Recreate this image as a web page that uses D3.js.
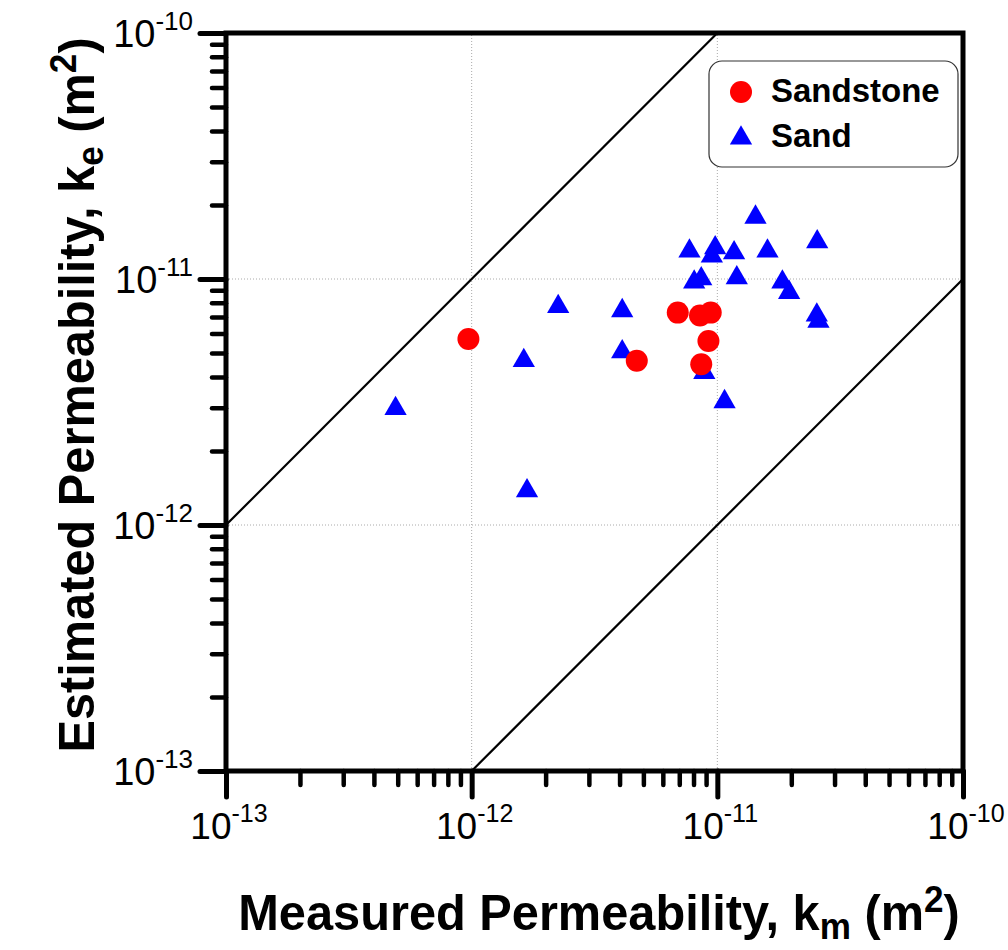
<!DOCTYPE html>
<html>
<head>
<meta charset="utf-8">
<script src="https://cdn.jsdelivr.net/npm/d3@7"></script>
<style>
  body { margin: 0; background: #fff; }
  svg text { font-family: Arial, "Liberation Sans", sans-serif; }
</style>
</head>
<body>
<svg id="chart" width="1008" height="950"></svg>
<script>
// measured (x) / estimated (y) permeability, m^2
const sandstoneMeasured  = [0.97e-12, 4.7e-12, 6.9e-12, 8.5e-12, 9.4e-12, 9.2e-12, 8.6e-12];
const sandstoneEstimated = [5.7e-12, 4.65e-12, 7.3e-12, 7.1e-12, 7.3e-12, 5.6e-12, 4.5e-12];

const sandMeasured  = [4.9e-13, 1.63e-12, 1.68e-12, 2.25e-12, 4.1e-12, 4.1e-12, 7.7e-12, 9.8e-12,
                       9.5e-12, 1.17e-11, 1.43e-11, 1.6e-11, 2.55e-11, 8.05e-12, 8.6e-12, 1.2e-11,
                       1.84e-11, 1.96e-11, 2.54e-11, 2.58e-11, 8.85e-12, 1.07e-11];
const sandEstimated = [3.0e-12, 4.7e-12, 1.39e-12, 7.8e-12, 7.5e-12, 5.1e-12, 1.31e-11, 1.35e-11,
                       1.25e-11, 1.29e-11, 1.8e-11, 1.31e-11, 1.43e-11, 9.8e-12, 1.01e-11, 1.02e-11,
                       9.8e-12, 8.9e-12, 7.2e-12, 6.8e-12, 4.2e-12, 3.2e-12];

const domainK = [1e-13, 1e-10];
const majorExponents = [-13, -12, -11, -10];
const gridExponents = [-12, -11];
const ratioLines = [10, 0.1];   // k_e = r * k_m

const svg = d3.select("#chart");
const x = d3.scaleLog().domain(domainK).range([226, 963]);
const y = d3.scaleLog().domain(domainK).range([771, 33]);

// grid
const grid = svg.append("g").attr("stroke", "#aaa").attr("stroke-width", 1).attr("stroke-dasharray", "1,2");
grid.selectAll(".gx").data(gridExponents).enter().append("line")
  .attr("x1", d => x(Math.pow(10, d))).attr("x2", d => x(Math.pow(10, d)))
  .attr("y1", y(domainK[0])).attr("y2", y(domainK[1]));
grid.selectAll(".gy").data(gridExponents).enter().append("line")
  .attr("y1", d => y(Math.pow(10, d))).attr("y2", d => y(Math.pow(10, d)))
  .attr("x1", x(domainK[0])).attr("x2", x(domainK[1]));

// 1:10 and 10:1 lines
const line = d3.line().x(d => x(d[0])).y(d => y(d[1]));
ratioLines.forEach(r => {
  const x0 = Math.max(domainK[0], domainK[0] / r);
  const x1 = Math.min(domainK[1], domainK[1] / r);
  svg.append("path")
    .attr("d", line([[x0, x0 * r], [x1, x1 * r]]))
    .attr("stroke", "#000").attr("stroke-width", 2.2).attr("fill", "none");
});

// ticks
const allTicks = x.ticks();
const isMajor = v => Math.abs(Math.log10(v) - Math.round(Math.log10(v))) < 1e-6;
const minorTicks = allTicks.filter(v => !isMajor(v));
const majorTicks = allTicks.filter(isMajor);

function styleAxis(g, w) {
  g.select(".domain").remove();
  g.selectAll("line").attr("stroke", "#000").attr("stroke-linecap", "round").attr("stroke-width", w);
}
svg.append("g").attr("transform", "translate(0,771)")
  .call(d3.axisBottom(x).tickValues(minorTicks).tickSize(14).tickFormat(""))
  .call(styleAxis, 4.5);
svg.append("g").attr("transform", "translate(0,771)")
  .call(d3.axisBottom(x).tickValues(majorTicks).tickSize(26).tickFormat(""))
  .call(styleAxis, 5);
svg.append("g").attr("transform", "translate(226,0)")
  .call(d3.axisLeft(y).tickValues(minorTicks).tickSize(14).tickFormat(""))
  .call(styleAxis, 4.5);
svg.append("g").attr("transform", "translate(226,0)")
  .call(d3.axisLeft(y).tickValues(majorTicks).tickSize(26).tickFormat(""))
  .call(styleAxis, 5);

// frame
svg.append("rect")
  .attr("x", x(domainK[0])).attr("y", y(domainK[1]))
  .attr("width", x(domainK[1]) - x(domainK[0]))
  .attr("height", y(domainK[0]) - y(domainK[1]))
  .attr("fill", "none").attr("stroke", "#000").attr("stroke-width", 5);

// tick labels
const xl = svg.selectAll(".xlab").data(majorExponents).enter().append("text")
  .attr("x", d => x(Math.pow(10, d)) + 3).attr("y", 839)
  .attr("text-anchor", "middle").attr("font-size", 37);
xl.append("tspan").text("10");
xl.append("tspan").attr("dy", -17).attr("font-size", 25).text(d => "-" + Math.abs(d));

const yl = svg.selectAll(".ylab").data(majorExponents).enter().append("text")
  .attr("x", 193).attr("y", d => y(Math.pow(10, d)) + 14)
  .attr("text-anchor", "end").attr("font-size", 38);
yl.append("tspan").text("10");
yl.append("tspan").attr("dy", -17).attr("font-size", 26).text(d => "-" + Math.abs(d));

// axis titles
function titleText(sel, main, sub) {
  sel.attr("text-anchor", "middle").attr("font-size", 50).attr("font-weight", "bold");
  sel.append("tspan").text(main);
  sel.append("tspan").attr("dy", 9).attr("font-size", 36).text(sub);
  sel.append("tspan").attr("dy", -9).text(" (m");
  sel.append("tspan").attr("dy", -18).attr("font-size", 36).text("2");
  sel.append("tspan").attr("dy", 18).text(")");
}
svg.append("text").attr("transform", "translate(599,930) scale(0.975,1)")
  .call(titleText, "Measured Permeability, k", "m");
svg.append("text").attr("transform", "translate(94,395) rotate(-90) scale(0.975,1)")
  .call(titleText, "Estimated Permeability, k", "e");

// points
const tri = d3.symbol().type(d3.symbolTriangle).size(215);
const sand = d3.zip(sandMeasured, sandEstimated);
const sandstone = d3.zip(sandstoneMeasured, sandstoneEstimated);
svg.append("g").selectAll("path").data(sand).enter().append("path")
  .attr("d", tri)
  .attr("transform", d => `translate(${x(d[0])},${y(d[1]) + 1})`)
  .attr("fill", "#0000ff");
svg.append("g").selectAll("circle").data(sandstone).enter().append("circle")
  .attr("cx", d => x(d[0])).attr("cy", d => y(d[1])).attr("r", 11)
  .attr("fill", "#ff0000");

// legend
const legend = svg.append("g");
legend.append("rect").attr("x", 709).attr("y", 61).attr("width", 249).attr("height", 106)
  .attr("rx", 13).attr("fill", "#fff").attr("stroke", "#333").attr("stroke-width", 1.2);
legend.append("circle").attr("cx", 741).attr("cy", 92).attr("r", 11).attr("fill", "#ff0000");
legend.append("path").attr("d", tri).attr("transform", "translate(741,138)").attr("fill", "#0000ff");
legend.append("text").attr("x", 771).attr("y", 102).attr("font-size", 33).attr("font-weight", "bold").text("Sandstone");
legend.append("text").attr("x", 771).attr("y", 147).attr("font-size", 33).attr("font-weight", "bold").text("Sand");
</script>
</body>
</html>
